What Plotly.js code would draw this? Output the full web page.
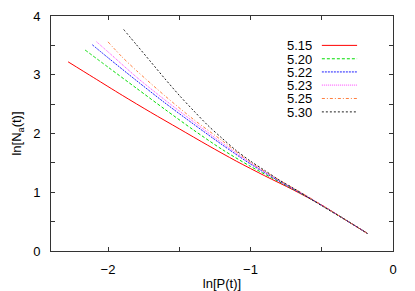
<!DOCTYPE html>
<html>
<head>
<meta charset="utf-8">
<script src="https://cdn.plot.ly/plotly-3.0.1.min.js"></script>
<style>html,body{margin:0;padding:0;background:#fff;}#chart{width:415px;height:291px;}</style>
</head>
<body>
<div id="chart"></div>
<script>
// Series labels
const seriesNames = ["5.15", "5.20", "5.22", "5.23", "5.25", "5.30"];

// ln[P(t)] values per series
const lnP_515 = [-2.28, -2.1, -1.9, -1.7, -1.5, -1.3, -1.1, -0.9, -0.7, -0.5, -0.3, -0.18];
const lnP_520 = [-2.16, -2.0, -1.8, -1.6, -1.4, -1.2, -1.0, -0.8, -0.6, -0.4, -0.18];
const lnP_522 = [-2.11, -2.0, -1.8, -1.6, -1.4, -1.2, -1.0, -0.8, -0.6, -0.4, -0.18];
const lnP_523 = [-2.08, -2.0, -1.8, -1.6, -1.4, -1.2, -1.0, -0.8, -0.6, -0.4, -0.18];
const lnP_525 = [-2.0, -1.9, -1.8, -1.6, -1.4, -1.2, -1.0, -0.8, -0.6, -0.4, -0.18];
const lnP_530 = [-1.89, -1.8, -1.7, -1.6, -1.5, -1.4, -1.3, -1.2, -1.1, -1.0, -0.9, -0.8, -0.7, -0.6, -0.5, -0.3, -0.18];

// ln[N_a(t)] values per series
const lnN_515 = [3.22, 2.95, 2.65, 2.36, 2.08, 1.80, 1.53, 1.28, 1.04, 0.78, 0.48, 0.30];
const lnN_520 = [3.42, 3.13, 2.77, 2.41, 2.06, 1.73, 1.44, 1.18, 0.92, 0.63, 0.30];
const lnN_522 = [3.51, 3.29, 2.90, 2.52, 2.16, 1.81, 1.48, 1.19, 0.92, 0.63, 0.30];
const lnN_523 = [3.56, 3.39, 2.96, 2.57, 2.20, 1.84, 1.50, 1.20, 0.93, 0.63, 0.30];
const lnN_525 = [3.56, 3.30, 3.07, 2.64, 2.24, 1.88, 1.51, 1.21, 0.93, 0.63, 0.30];
const lnN_530 = [3.77, 3.51, 3.22, 2.93, 2.65, 2.39, 2.14, 1.92, 1.71, 1.53, 1.37, 1.21, 1.07, 0.92, 0.77, 0.48, 0.30];

const colors = ["#ff0000", "#00dd00", "#2020ff", "#ff40ff", "#ff7f3f", "#202020"];
const dashes = ["solid", "3px,2px", "2px,1px", "1px,1px", "3px,2px,1px,2px", "2px,2px"];

const xs = [lnP_515, lnP_520, lnP_522, lnP_523, lnP_525, lnP_530];
const ys = [lnN_515, lnN_520, lnN_522, lnN_523, lnN_525, lnN_530];

const traces = seriesNames.map((n, i) => ({
  x: xs[i], y: ys[i], name: n, type: "scatter", mode: "lines",
  line: {color: colors[i], width: 1, dash: dashes[i], shape: "spline", smoothing: 0.8},
  showlegend: false
}));

// legend drawn as annotations + sample line shapes (text left of line, like gnuplot)
const legX0 = 0.792, legX1 = 0.895, legTextX = 0.766;
const legY = [0.875, 0.818, 0.762, 0.706, 0.649, 0.592];
const annotations = seriesNames.map((n, i) => ({
  xref: "paper", yref: "paper", x: legTextX, y: legY[i], text: n,
  showarrow: false, xanchor: "right", yanchor: "middle", height: 12, borderpad: 0, valign: "middle",
  font: {family: "Liberation Sans, Arial, sans-serif", size: 13, color: "#000"}
}));
const shapes = seriesNames.map((n, i) => ({
  type: "line", xref: "paper", yref: "paper", x0: legX0, x1: legX1, y0: legY[i], y1: legY[i],
  line: {color: colors[i], width: 1, dash: dashes[i]}
}));

const axisFont = {family: "Liberation Sans, Arial, sans-serif", size: 13, color: "#000"};
const layout = {
  width: 415, height: 291,
  margin: {l: 51, r: 22, t: 16, b: 40, pad: 0},
  paper_bgcolor: "#fff", plot_bgcolor: "#fff",
  font: axisFont,
  showlegend: false,
  xaxis: {
    range: [-2.4, 0], tickmode: "linear", tick0: 0, dtick: 1,
    ticks: "inside", ticklen: 4, tickcolor: "#333", tickwidth: 1,
    minor: {dtick: 0.5, tick0: 0, ticks: "inside", ticklen: 4, tickcolor: "#333", showgrid: false},
    showline: true, linecolor: "#333", linewidth: 1, mirror: "ticks",
    showgrid: false, zeroline: false, tickfont: axisFont, ticklabelstandoff: 6,
    title: {text: "ln[P(t)]", font: axisFont, standoff: 6}
  },
  yaxis: {
    range: [0, 4], tickmode: "linear", tick0: 0, dtick: 1,
    ticks: "inside", ticklen: 4, tickcolor: "#333", tickwidth: 1,
    minor: {dtick: 0.5, tick0: 0, ticks: "inside", ticklen: 4, tickcolor: "#333", showgrid: false},
    showline: true, linecolor: "#333", linewidth: 1, mirror: "ticks",
    showgrid: false, zeroline: false, tickfont: axisFont, ticklabelstandoff: 7,
    title: {text: "ln[N<sub>a</sub>(t)]", font: axisFont, standoff: 8}
  },
  annotations: annotations,
  shapes: shapes
};

Plotly.newPlot("chart", traces, layout, {staticPlot: true, displayModeBar: false});
</script>
</body>
</html>
